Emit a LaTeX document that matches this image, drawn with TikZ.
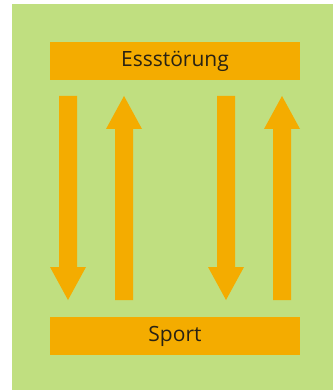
\documentclass[tikz,border=0pt]{standalone}
\usepackage{fontspec}
\setmainfont{Open Sans}
\definecolor{bggreen}{RGB}{192,223,128}
\definecolor{boxorange}{RGB}{244,172,0}
\definecolor{txt}{RGB}{40,34,20}
\begin{document}
\begin{tikzpicture}[x=1pt,y=-1pt,
  labelbox/.style={fill=boxorange,draw=none,minimum width=250pt,minimum height=38pt,inner sep=0pt,
    font=\fontsize{21}{24}\selectfont,text=txt},
  blockarrow/.style={fill=boxorange,draw=none}]
\useasboundingbox (0,0) rectangle (333,390);
\fill[bggreen] (12,4) rectangle (333,390);
\node[labelbox] (top) at (175,61) {Essstörung};
\node[labelbox] (bot) at (175,336) {Sport};
% down arrows: shaft from y=96 to 267, head to tip y=300
\foreach \cx/\nm in {68/d1,226/d2}{
  \coordinate (\nm) at (\cx,300);
  \fill[blockarrow] (\cx-9,96) -- (\cx+9,96) -- (\cx+9,267) -- (\cx+18,267) -- (\nm) -- (\cx-18,267) -- (\cx-9,267) -- cycle;
}
% up arrows
\foreach \cx/\nm in {124/u1,282/u2}{
  \coordinate (\nm) at (\cx,96);
  \fill[blockarrow] (\cx-9,300) -- (\cx+9,300) -- (\cx+9,129) -- (\cx+18,129) -- (\nm) -- (\cx-18,129) -- (\cx-9,129) -- cycle;
}
\end{tikzpicture}
\end{document}
